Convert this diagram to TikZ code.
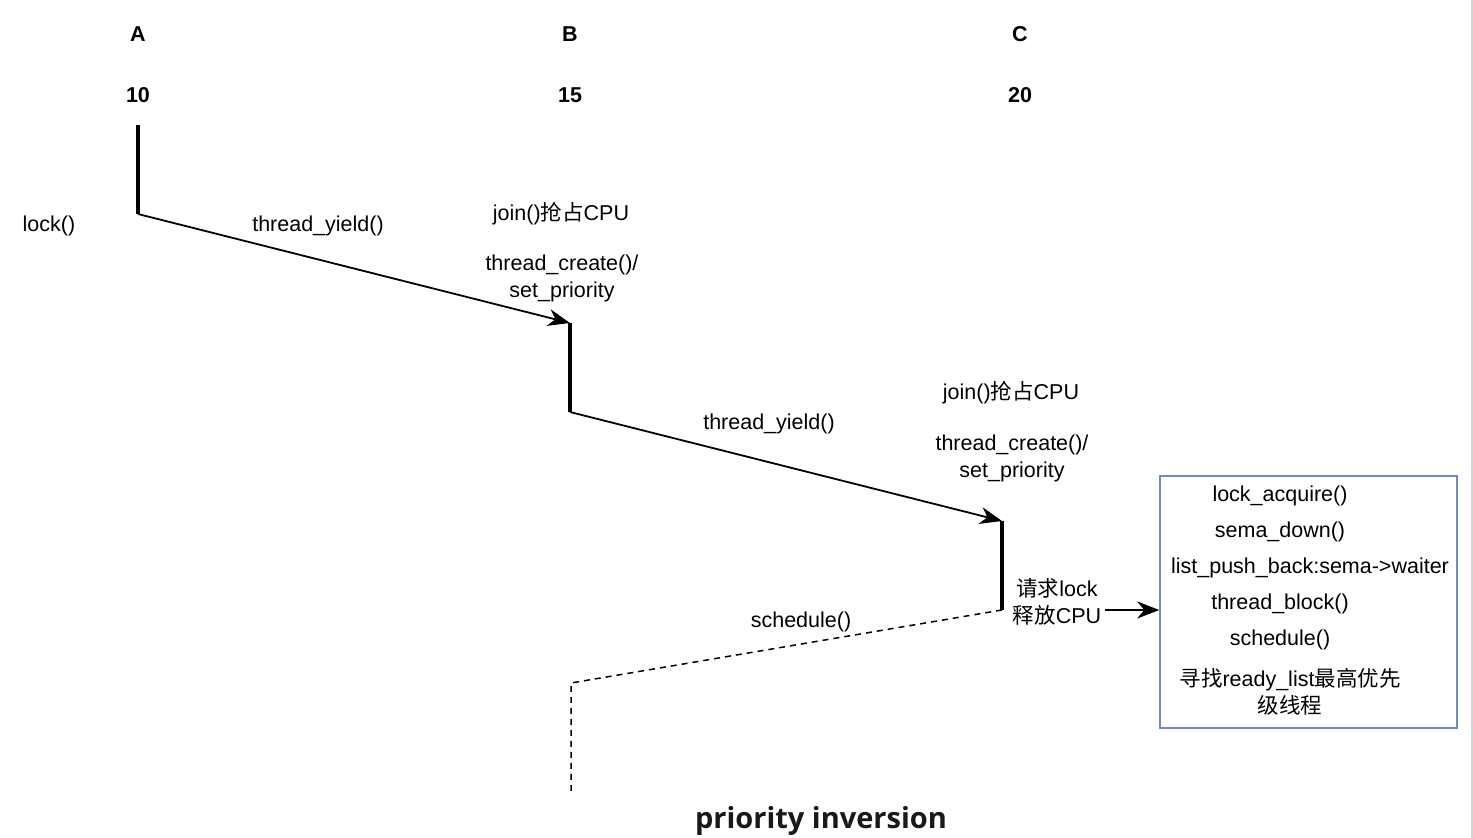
\documentclass[tikz,border=0pt]{standalone}
\usepackage{fontspec}
\setmainfont{Liberation Sans}
\newfontfamily\cjk{Noto Sans CJK SC}
\newfontfamily\titlefont{Open Sans}
\usetikzlibrary{arrows.meta}
\definecolor{boxblue}{HTML}{6C8EBF}
\definecolor{edgegray}{HTML}{D3D3D3}
\begin{document}
\begin{tikzpicture}[x=1pt,y=-1pt,
  lbl/.style={inner sep=0pt,font=\fontsize{21.5}{27}\selectfont,align=center,anchor=center},
  hdr/.style={inner sep=0pt,font=\fontsize{21.5}{27}\selectfont\bfseries,anchor=center},
  thin/.style={line width=1.8pt},
  thick/.style={line width=3.2pt},
  tip/.style={-{Stealth[length=22pt,width=17pt,inset=7pt]}},
  dsh/.style={line width=1.5pt,dash pattern=on 6pt off 5pt}]
\useasboundingbox (0,0) rectangle (1473,838);
\fill[white] (0,0) rectangle (1473,838);
\draw[edgegray,line width=1.5pt] (1472,0) -- (1472,838);
% headers
\node[hdr] (hA) at (138,34) {A};
\node[hdr] (nA) at (138,95) {10};
\node[hdr] (hB) at (570,34) {B};
\node[hdr] (nB) at (570,95) {15};
\node[hdr] (hC) at (1020,34) {C};
\node[hdr] (nC) at (1020,95) {20};
% points
\coordinate (a1) at (138,125);
\coordinate (a2) at (138,214);
\coordinate (b1) at (570,323);
\coordinate (b2) at (570,412);
\coordinate (c1) at (1002,521);
\coordinate (c2) at (1002,610);
\coordinate (d1) at (571,683);
\coordinate (d2) at (571,792);
\draw[thick] (a1) -- (a2);
\draw[thin,tip] (a2) -- (b1);
\draw[thick] (b1) -- (b2);
\draw[thin,tip] (b2) -- (c1);
\draw[thick] (c1) -- (c2);
\draw[dsh] (c2) -- (d1) -- (d2);
% labels
\node[lbl] (lk) at (49,226) {lock()};
\node[lbl] (ty1) at (318,226) {thread\_yield()};
\node[lbl] (j1) at (561,214) {join(){\cjk 抢占}CPU};
\node[lbl] (tc1) at (562,278) {thread\_create()/\\set\_priority};
\node[lbl] (ty2) at (769,424) {thread\_yield()};
\node[lbl] (j2) at (1011,393) {join(){\cjk 抢占}CPU};
\node[lbl] (tc2) at (1012,458) {thread\_create()/\\set\_priority};
\node[lbl] (sc) at (801,622) {schedule()};
\node[lbl] (req) at (1057,602) {{\cjk 请求}lock\\{\cjk 释放}CPU};
% box
\node[draw=boxblue,line width=1.5pt,minimum width=297pt,minimum height=252pt,inner sep=0pt] (box) at (1308.5,602) {};
\draw[thin,tip] (req.east |- 0,610) ++(4,0) coordinate (rs) -- (box.west |- rs);
\node[lbl] at (1280,496) {lock\_acquire()};
\node[lbl] at (1280,532) {sema\_down()};
\node[lbl] at (1310,568) {list\_push\_back:sema->waiter};
\node[lbl] at (1280,604) {thread\_block()};
\node[lbl] at (1280,640) {schedule()};
\node[lbl] at (1290,692) {{\cjk 寻找}ready\_list{\cjk 最高优先}\\{\cjk 级线程}};
\node[inner sep=0pt,font=\fontsize{29}{34}\selectfont\titlefont\bfseries,text=black!90] (title) at (821,821) {priority inversion};
\end{tikzpicture}
\end{document}
